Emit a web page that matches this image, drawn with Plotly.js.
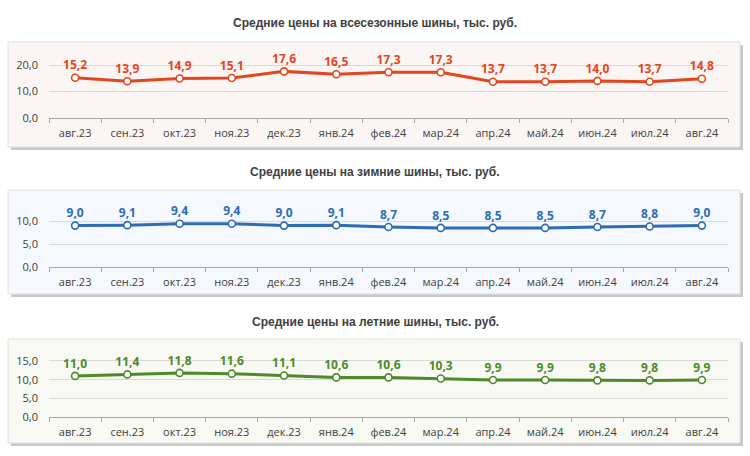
<!DOCTYPE html>
<html>
<head>
<meta charset="utf-8">
<script src="https://cdn.plot.ly/plotly-3.0.1.min.js"></script>
<style>
  body { margin: 0; background: #ffffff; }
  #plot { width: 750px; height: 456px; }
</style>
</head>
<body>
<div id="plot"></div>
<script>
const months = ["авг.23", "сен.23", "окт.23", "ноя.23", "дек.23", "янв.24", "фев.24",
                "мар.24", "апр.24", "май.24", "июн.24", "июл.24", "авг.24"]

const allseason_prices = [15.2, 13.9, 14.9, 15.1, 17.6, 16.5, 17.3, 17.3, 13.7, 13.7, 14.0, 13.7, 14.8]
const winter_prices = [9.0, 9.1, 9.4, 9.4, 9.0, 9.1, 8.7, 8.5, 8.5, 8.5, 8.7, 8.8, 9.0]
const summer_prices = [11.0, 11.4, 11.8, 11.6, 11.1, 10.6, 10.6, 10.3, 9.9, 9.9, 9.8, 9.8, 9.9]

const titles = ["Средние цены на всесезонные шины, тыс. руб.",
                "Средние цены на зимние шины, тыс. руб.",
                "Средние цены на летние шины, тыс. руб."]

const W = 750, H = 456

// pixel -> paper helpers
function px(x) { return x / W }
function py(y) { return 1 - y / H }

// panel geometry (pixels): box, axis bottom/top, y range, dtick, colours
const panels = [
    { series: allseason_prices, color: "#E2461E", bg: "#FBF6F3", title_y: 23,
      box: [8, 42, 740, 147], y0: 118, y1: 63.7, range: [0, 20.5], dtick: 10 },
    { series: winter_prices, color: "#2E6DB4", bg: "#F5F8FC", title_y: 172,
      box: [8, 190, 740, 294], y0: 267, y1: 218.7, range: [0, 10.5], dtick: 5 },
    { series: summer_prices, color: "#4E8A2A", bg: "#F7F9F2", title_y: 322,
      box: [8, 339, 740, 443], y0: 417, y1: 359.1, range: [0, 15.5], dtick: 5 },
]

const label_font = "'Open Sans', 'Noto Sans', sans-serif"

let data = []
let layout = {
    width: W, height: H,
    margin: { l: 0, r: 0, t: 0, b: 0 },
    paper_bgcolor: "#ffffff",
    plot_bgcolor: "rgba(0,0,0,0)",
    separators: ", ",
    showlegend: false,
    shapes: [],
    annotations: [],
    font: { family: label_font, size: 11, color: "#404040" },
}

panels.forEach(function (p, i) {
    const n = i == 0 ? "" : String(i + 1)

    data.push({
        type: "scatter", mode: "lines+markers+text",
        x: months, y: p.series,
        xaxis: "x" + n, yaxis: "y" + n,
        line: { color: p.color, width: 3 },
        marker: { size: 7, color: "#ffffff", line: { color: p.color, width: 1.6 } },
        texttemplate: "%{y:.1f}",
        textposition: "top center",
        textfont: { family: label_font, size: 12, color: p.color, weight: "bold" },
        cliponaxis: false,
        hoverinfo: "none",
    })

    layout["xaxis" + n] = {
        domain: [px(49), px(728)],
        anchor: "y" + n,
        type: "category",
        range: [-0.5, months.length - 0.5],
        showline: true, linecolor: "#a6a6a6", linewidth: 1,
        ticks: "outside", tickson: "boundaries", ticklen: 4, tickcolor: "#a6a6a6",
        ticklabelstandoff: 5,
        showgrid: false, zeroline: false,
        tickfont: { family: label_font, size: 11, color: "#404040" },
        fixedrange: true,
    }
    layout["yaxis" + n] = {
        domain: [py(p.y0), py(p.y1)],
        anchor: "x" + n,
        range: p.range, dtick: p.dtick, tick0: 0,
        tickformat: ".1f",
        showline: false, zeroline: false,
        showgrid: true, gridcolor: "#d9d9d9", gridwidth: 1,
        ticks: "", ticklabelstandoff: 10,
        tickfont: { family: label_font, size: 11, color: "#404040" },
        fixedrange: true,
    }

    // shadow, then box
    const b = p.box
    layout.shapes.push({ type: "rect", xref: "paper", yref: "paper", layer: "below",
        x0: px(b[0] + 3), x1: px(b[2] + 3), y0: py(b[1] + 3), y1: py(b[3] + 3),
        fillcolor: "#c8c8c8", line: { width: 0 } })
    layout.shapes.push({ type: "rect", xref: "paper", yref: "paper", layer: "below",
        x0: px(b[0]), x1: px(b[2]), y0: py(b[1]), y1: py(b[3]),
        fillcolor: p.bg, line: { color: "#e2e2e2", width: 1 } })

    layout.annotations.push({
        xref: "paper", yref: "paper", x: 0.5, y: py(p.title_y),
        xanchor: "center", yanchor: "middle", showarrow: false,
        text: "<b>" + titles[i] + "</b>",
        font: { family: "'Liberation Sans', Arial, sans-serif", size: 12, color: "#404040" },
    })
})

Plotly.newPlot("plot", data, layout, { displayModeBar: false, staticPlot: true })
</script>
</body>
</html>
